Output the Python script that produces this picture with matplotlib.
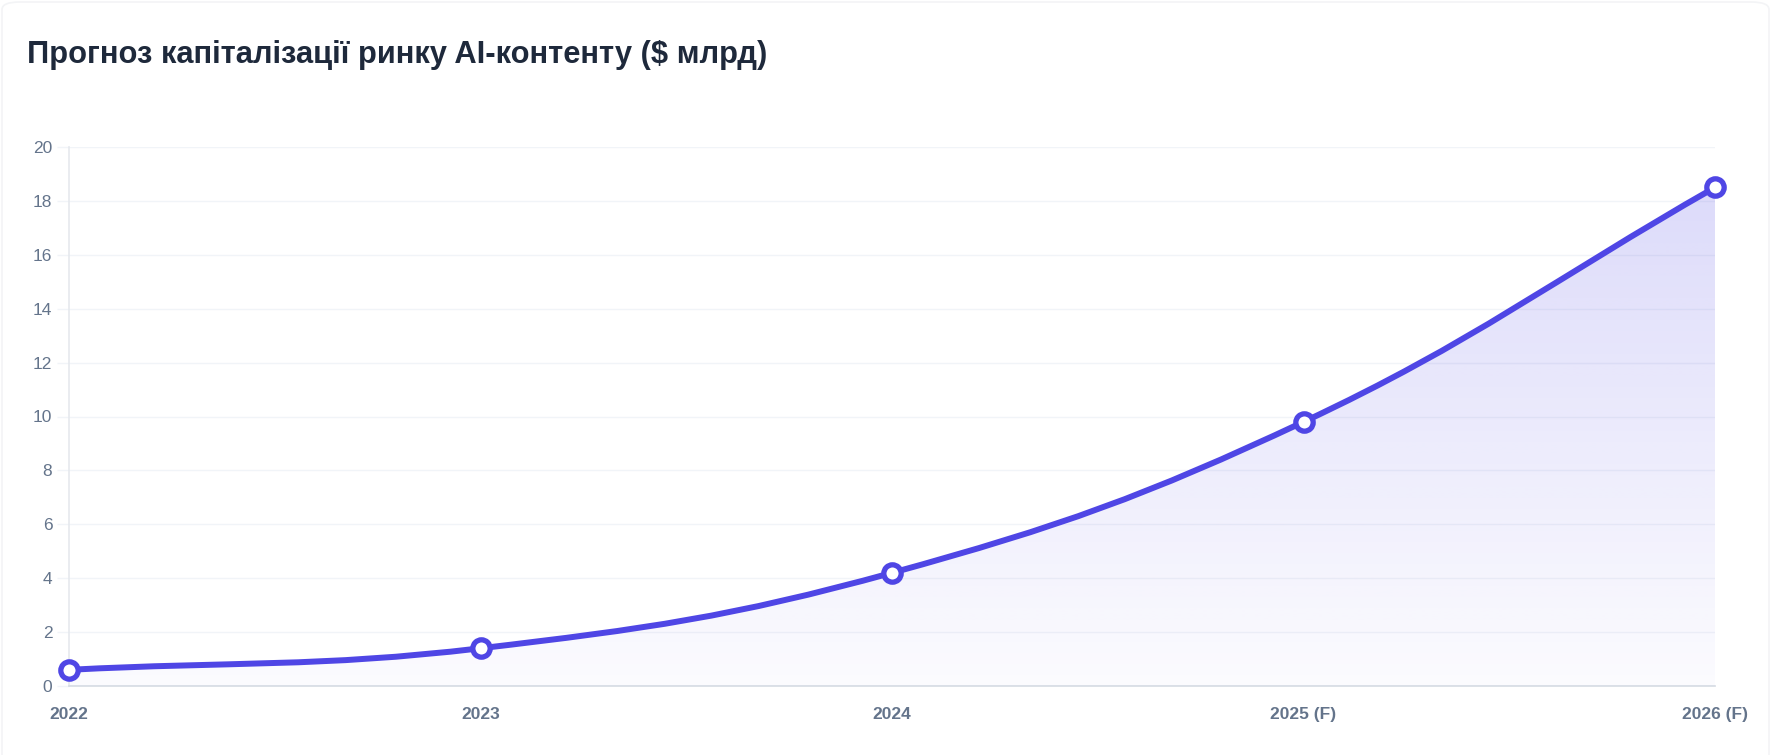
import numpy as np
import matplotlib
matplotlib.use("Agg")
import matplotlib.pyplot as plt
from matplotlib.path import Path
from matplotlib.patches import PathPatch, FancyBboxPatch
from matplotlib.colors import to_rgb

# ---- data ----
years = ["2022", "2023", "2024", "2025 (F)", "2026 (F)"]
values = [0.6, 1.4, 4.2, 9.8, 18.5]
y_ticks = [0, 2, 4, 6, 8, 10, 12, 14, 16, 18, 20]
title = "Прогноз капіталізації ринку AI-контенту ($ млрд)"

LINE = "#4f46e5"
TICK_C = "#64748b"
GRID_C = "#f1f4f8"

W, H = 1773, 755
fig = plt.figure(figsize=(W / 100, H / 100), dpi=100)
fig.patch.set_facecolor("white")

# faint card border
fig.patches.append(FancyBboxPatch((2 / W, -10 / H), (W - 6) / W, (H + 8) / H,
                                  boxstyle="round,pad=0,rounding_size=0.01",
                                  transform=fig.transFigure, fill=False,
                                  edgecolor="#f3f4f6", linewidth=1.2))

ax = fig.add_axes([69 / W, 1 - 686 / H, (1715 - 69) / W, (686 - 147) / H])
x = np.arange(len(years))
ax.set_xlim(0, len(years) - 1)
ax.set_ylim(0, 20)

# ---- Chart.js-like spline (tension 0.4) computed in pixel space ----
fig.canvas.draw()
pts = ax.transData.transform(np.column_stack([x, values]))
t = 0.4
cps = []
n = len(pts)
for i in range(n):
    prev = pts[i - 1] if i > 0 else pts[i]
    cur = pts[i]
    nxt = pts[i + 1] if i < n - 1 else pts[i]
    d01 = np.hypot(*(cur - prev))
    d12 = np.hypot(*(nxt - cur))
    tot = d01 + d12
    s01 = d01 / tot if tot else 0
    s12 = d12 / tot if tot else 0
    fa, fb = t * s01, t * s12
    cps.append((cur - fa * (nxt - prev), cur + fb * (nxt - prev)))
bbox = ax.bbox
verts = [pts[0]]
codes = [Path.MOVETO]
for i in range(n - 1):
    c1 = cps[i][1].copy()
    c2 = cps[i + 1][0].copy()
    for c in (c1, c2):
        c[0] = min(max(c[0], bbox.x0), bbox.x1)
        c[1] = min(max(c[1], bbox.y0), bbox.y1)
    verts += [c1, c2, pts[i + 1]]
    codes += [Path.CURVE4] * 3
inv = ax.transData.inverted()
verts_d = inv.transform(np.array(verts))
curve = Path(verts_d, codes)

# fill region path
fill_verts = list(verts_d) + [(x[-1], 0), (x[0], 0), verts_d[0]]
fill_codes = codes + [Path.LINETO, Path.LINETO, Path.CLOSEPOLY]
fill_path = Path(fill_verts, fill_codes)

# gradient fill
r, g, b = to_rgb(LINE)
grad = np.zeros((256, 2, 4))
alphas = np.linspace(0.21, 0.02, 256)  # top -> bottom
grad[:, :, 0], grad[:, :, 1], grad[:, :, 2] = r, g, b
grad[:, :, 3] = alphas[:, None]
im = ax.imshow(grad, extent=(0, len(years) - 1, 0, 20), origin="upper",
               aspect="auto", zorder=1, interpolation="bilinear")
clip = PathPatch(fill_path, transform=ax.transData, facecolor="none", edgecolor="none")
ax.add_patch(clip)
im.set_clip_path(clip)

ax.add_patch(PathPatch(curve, facecolor="none", edgecolor=LINE, linewidth=4.3,
                       capstyle="round", joinstyle="round", zorder=3))
ax.plot(x, values, linestyle="none", marker="o", markersize=12.5,
        markerfacecolor="white", markeredgecolor=LINE, markeredgewidth=3.8,
        zorder=4, clip_on=False)

# ---- axes styling ----
ax.set_yticks(y_ticks)
ax.set_yticklabels([str(v) for v in y_ticks])
ax.set_xticks(x)
ax.set_xticklabels(years)
ax.grid(axis="y", color=GRID_C, linewidth=1.0, zorder=0)
ax.set_axisbelow(True)
for s in ("top", "right"):
    ax.spines[s].set_visible(False)
ax.spines["left"].set_color("#e6e9ee")
ax.spines["left"].set_linewidth(1.2)
ax.spines["bottom"].set_color("#d5dbe3")
ax.spines["bottom"].set_linewidth(1.2)
ax.tick_params(axis="y", length=9, width=1.0, color=GRID_C, pad=3,
               labelsize=12.5, labelcolor=TICK_C)
ax.tick_params(axis="x", length=0, pad=15, labelsize=12.5, labelcolor=TICK_C)
for lab in ax.get_yticklabels():
    lab.set_fontfamily("Liberation Sans")
for lab in ax.get_xticklabels():
    lab.set_fontfamily("Liberation Sans")
    lab.set_fontweight("bold")

fig.text(27 / W, 1 - 55 / H, title, fontsize=22.2, fontweight="bold",
         family="Liberation Sans", color="#1e293b", va="center", ha="left")

fig.savefig("out.png", dpi=100, facecolor="white")
